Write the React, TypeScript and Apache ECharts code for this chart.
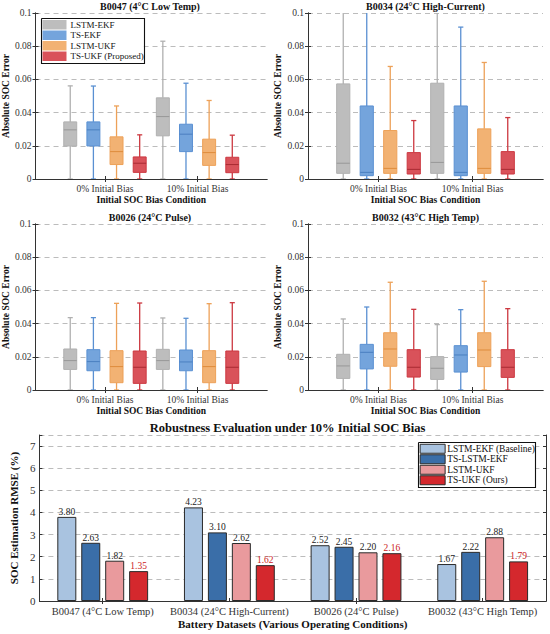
import React, { useEffect, useRef } from 'react';
import * as echarts from 'echarts';

const methods = ['LSTM-EKF', 'TS-EKF', 'LSTM-UKF', 'TS-UKF (Proposed)'];
const biasLabels = ['0% Initial Bias', '10% Initial Bias'];
const panelTitles = ['B0047 (4°C Low Temp)', 'B0034 (24°C High-Current)', 'B0026 (24°C Pulse)', 'B0032 (43°C High Temp)'];

// [method][bias] = [min, q1, median, q3, max]
const b0047 = [
  [[0, 0.0199, 0.0296, 0.0344, 0.0561], [0, 0.026, 0.0376, 0.0489, 0.083]],
  [[0, 0.0199, 0.0296, 0.0344, 0.056], [0, 0.0165, 0.027, 0.033, 0.0577]],
  [[0, 0.0087, 0.0165, 0.0254, 0.044], [0, 0.0082, 0.0159, 0.024, 0.0473]],
  [[0, 0.004, 0.0095, 0.0133, 0.0266], [0, 0.0038, 0.0087, 0.0131, 0.0264]],
];
const b0034 = [
  [[0, 0.0034, 0.0095, 0.0573, 0.118], [0, 0.0034, 0.010, 0.0577, 0.12]],
  [[0, 0.002, 0.004, 0.044, 0.108], [0, 0.002, 0.004, 0.044, 0.0915]],
  [[0, 0.0034, 0.0064, 0.0292, 0.0678], [0, 0.0034, 0.0064, 0.0302, 0.0702]],
  [[0, 0.003, 0.0058, 0.0159, 0.0352], [0, 0.003, 0.0058, 0.0165, 0.037]],
];
const b0026 = [
  [[0, 0.0124, 0.0177, 0.0247, 0.0436], [0, 0.0124, 0.0177, 0.0245, 0.0434]],
  [[0, 0.0116, 0.0171, 0.0243, 0.0436], [0, 0.0116, 0.0169, 0.0241, 0.0432]],
  [[0, 0.0044, 0.0141, 0.0237, 0.0522], [0, 0.0044, 0.0141, 0.0237, 0.052]],
  [[0, 0.004, 0.0137, 0.0235, 0.0524], [0, 0.004, 0.0137, 0.0235, 0.0526]],
];
const b0032 = [
  [[0, 0.007, 0.0145, 0.0215, 0.0428], [0, 0.0064, 0.0131, 0.0201, 0.0394]],
  [[0, 0.0127, 0.0227, 0.0275, 0.05], [0, 0.0108, 0.0211, 0.0267, 0.0484]],
  [[0, 0.0143, 0.0247, 0.0345, 0.0649], [0, 0.0141, 0.0241, 0.0345, 0.0655]],
  [[0, 0.0078, 0.0137, 0.0243, 0.0486], [0, 0.0076, 0.0137, 0.0243, 0.049]],
];
const panelStats = [b0047, b0034, b0026, b0032];

const barCategories = ['B0047 (4°C Low Temp)', 'B0034 (24°C High-Current)', 'B0026 (24°C Pulse)', 'B0032 (43°C High Temp)'];
const barSeriesNames = ['LSTM-EKF (Baseline)', 'TS-LSTM-EKF', 'LSTM-UKF', 'TS-UKF (Ours)'];
const rmseLstmEkf = [3.80, 4.23, 2.52, 1.67];
const rmseTsLstmEkf = [2.63, 3.10, 2.45, 2.22];
const rmseLstmUkf = [1.82, 2.62, 2.20, 2.88];
const rmseTsUkf = [1.35, 1.62, 2.16, 1.79];
const barValues = [rmseLstmEkf, rmseTsLstmEkf, rmseLstmUkf, rmseTsUkf];

const boxFill = ['#bdbdbd', '#74a4dc', '#f2b273', '#d9525a'];
const boxStroke = ['#b0b0b0', '#5a90d2', '#eda158', '#cc3840'];
const boxMedian = ['#979797', '#4a7fc0', '#de8c3c', '#a82a32'];
const barColors = ['#a9c3e0', '#3a6ea8', '#e99a9d', '#d4282d'];

const FONT = 'Liberation Serif';

const grids = [
  { left: 33, top: 13, width: 234, height: 166 },
  { left: 308, top: 13, width: 235, height: 166 },
  { left: 33, top: 224, width: 234, height: 166 },
  { left: 308, top: 224, width: 235, height: 166 },
  { left: 33, top: 435, width: 513, height: 166 },
];

function makeRenderer(m: number) {
  return (params: any, api: any) => {
    const x = api.value(0);
    const mn = api.value(1);
    const q1 = api.value(2);
    const md = api.value(3);
    const q3 = api.value(4);
    const mx = api.value(5);
    const unit = api.size([1, 0])[0];
    const half = unit * 0.28;
    const cap = unit * 0.11;
    const pMin = api.coord([x, mn]);
    const pQ1 = api.coord([x, q1]);
    const pMd = api.coord([x, md]);
    const pQ3 = api.coord([x, q3]);
    const pMax = api.coord([x, mx]);
    const cx = pMin[0];
    const ws = { stroke: boxStroke[m], lineWidth: 1.3 };
    return {
      type: 'group',
      children: [
        { type: 'line', shape: { x1: cx, y1: pMax[1], x2: cx, y2: pQ3[1] }, style: ws },
        { type: 'line', shape: { x1: cx, y1: pQ1[1], x2: cx, y2: pMin[1] }, style: ws },
        { type: 'line', shape: { x1: cx - cap, y1: pMax[1], x2: cx + cap, y2: pMax[1] }, style: ws },
        { type: 'line', shape: { x1: cx - cap, y1: pMin[1], x2: cx + cap, y2: pMin[1] }, style: ws },
        {
          type: 'rect',
          shape: { x: cx - half, y: pQ3[1], width: 2 * half, height: pQ1[1] - pQ3[1] },
          style: { fill: boxFill[m], stroke: boxStroke[m], lineWidth: 1 },
        },
        { type: 'line', shape: { x1: cx - half, y1: pMd[1], x2: cx + half, y2: pMd[1] }, style: { stroke: boxMedian[m], lineWidth: 1 } },
      ],
    };
  };
}

function buildOption() {
  const xAxis: any[] = [];
  const yAxis: any[] = [];
  const series: any[] = [];
  const title: any[] = [];
  const axisLine = { show: true, lineStyle: { color: '#333', width: 1 } };
  const tick = { show: true, inside: true, length: 3, lineStyle: { color: '#333' } };

  for (let p = 0; p < 4; p++) {
    const g = grids[p];
    title.push({
      text: panelTitles[p],
      left: g.left + g.width / 2,
      top: g.top - 12,
      textAlign: 'center',
      padding: 0,
      textStyle: { fontFamily: FONT, fontSize: 10, fontWeight: 'bold', color: '#111' },
    });
    xAxis.push({
      type: 'value', gridIndex: p, min: 0, max: 10, interval: 1,
      axisLine, axisTick: { ...tick, customValues: [3, 7] },
      axisLabel: {
        customValues: [3, 7], margin: 5, fontFamily: FONT, fontSize: 9.5, color: '#333',
        formatter: (v: number) => (v === 3 ? biasLabels[0] : v === 7 ? biasLabels[1] : ''),
      },
      splitLine: { show: false },
      name: 'Initial SOC Bias Condition', nameLocation: 'middle', nameGap: 15,
      nameTextStyle: { fontFamily: FONT, fontSize: 9.5, fontWeight: 'bold', color: '#111' },
    });
    xAxis.push({
      type: 'value', gridIndex: p, min: 0, max: 10, interval: 1, position: 'top',
      axisLine, axisTick: { ...tick, customValues: [3, 7] }, axisLabel: { show: false }, splitLine: { show: false },
    });
    yAxis.push({
      type: 'value', gridIndex: p, min: 0, max: 0.1, interval: 0.02,
      axisLine, axisTick: tick,
      axisLabel: { fontFamily: FONT, fontSize: 9.5, color: '#333', margin: 4 },
      splitLine: { show: true, lineStyle: { type: [5, 4], color: '#bcbcbc', width: 1 } },
      name: 'Absolute SOC Error', nameLocation: 'middle', nameGap: 21,
      nameTextStyle: { fontFamily: FONT, fontSize: 9.5, fontWeight: 'bold', color: '#111' },
    });
    yAxis.push({
      type: 'value', gridIndex: p, min: 0, max: 0.1, interval: 0.02, position: 'right',
      axisLine, axisTick: tick, axisLabel: { show: false }, splitLine: { show: false },
    });
    const stats = panelStats[p];
    for (let m = 0; m < 4; m++) {
      series.push({
        type: 'custom',
        name: methods[m],
        xAxisIndex: 2 * p,
        yAxisIndex: 2 * p,
        clip: true,
        itemStyle: { color: boxFill[m] },
        encode: { x: 0, y: [1, 2, 3, 4, 5] },
        renderItem: makeRenderer(m),
        data: biasLabels.map((_, gi) => [1.5 + gi * 4 + m, ...stats[m][gi]]),
      });
    }
  }

  const bg = grids[4];
  title.push({
    text: 'Robustness Evaluation under 10% Initial SOC Bias',
    left: bg.left + bg.width / 2 - 2,
    top: bg.top - 14,
    textAlign: 'center',
    padding: 0,
    textStyle: { fontFamily: FONT, fontSize: 12.5, fontWeight: 'bold', color: '#111' },
  });
  xAxis.push({
    type: 'category', gridIndex: 4, data: barCategories,
    axisLine, axisTick: { ...tick, alignWithLabel: true },
    axisLabel: { fontFamily: FONT, fontSize: 10.5, color: '#333', margin: 5, interval: 0 },
    name: 'Battery Datasets (Various Operating Conditions)', nameLocation: 'middle', nameGap: 17,
    nameTextStyle: { fontFamily: FONT, fontSize: 11, fontWeight: 'bold', color: '#111' },
  });
  xAxis.push({
    type: 'category', gridIndex: 4, data: barCategories, position: 'top',
    axisLine, axisTick: { ...tick, alignWithLabel: true }, axisLabel: { show: false },
  });
  yAxis.push({
    type: 'value', gridIndex: 4, min: 0, max: 7.5, interval: 1,
    axisLine, axisTick: tick,
    axisLabel: {
      fontFamily: FONT, fontSize: 11, color: '#333', margin: 4,
      formatter: (v: number) => (Number.isInteger(v) ? String(v) : ''),
    },
    splitLine: { show: true, lineStyle: { type: [5, 4], color: '#bcbcbc', width: 1 } },
    name: 'SOC Estimation RMSE (%)', nameLocation: 'middle', nameGap: 11,
    nameTextStyle: { fontFamily: FONT, fontSize: 11, fontWeight: 'bold', color: '#111' },
  });
  yAxis.push({
    type: 'value', gridIndex: 4, min: 0, max: 7.5, interval: 1, position: 'right',
    axisLine, axisTick: tick, axisLabel: { show: false }, splitLine: { show: false },
  });
  for (let s = 0; s < 4; s++) {
    series.push({
      type: 'bar',
      name: barSeriesNames[s],
      xAxisIndex: 8,
      yAxisIndex: 8,
      barWidth: 19,
      barGap: '26%',
      itemStyle: { color: barColors[s], borderColor: '#2a2a2a', borderWidth: 1 },
      label: {
        show: true, position: 'top', distance: 0,
        fontFamily: FONT, fontSize: 9.5,
        color: s === 3 ? '#cc1a1a' : '#222',
        formatter: (d: any) => Number(d.value).toFixed(2),
      },
      data: barValues[s],
    });
  }

  const legend = [
    {
      orient: 'vertical',
      icon: 'rect',
      itemGap: 0,
      left: 41, top: 18,
      padding: [1.5, 0, 1.5, 1.5],
      borderWidth: 0,
      backgroundColor: '#ffffff',
      selectedMode: false,
      itemWidth: 24, itemHeight: 9.5,
      textStyle: { fontFamily: FONT, fontSize: 9, lineHeight: 10.5, color: '#111', padding: [0, 0, 0, -1] },
      data: methods.map((n, i) => ({ name: n, itemStyle: { color: boxFill[i], borderWidth: 0 } })),
    },
    {
      orient: 'vertical',
      icon: 'rect',
      itemGap: 0,
      right: 14, top: 442,
      padding: [1.5, 1, 1.5, 2.5],
      borderWidth: 0,
      backgroundColor: '#ffffff',
      selectedMode: false,
      itemWidth: 25, itemHeight: 9,
      textStyle: { fontFamily: FONT, fontSize: 9.5, lineHeight: 10.5, color: '#111', padding: [0, 0, 0, -3] },
      data: barSeriesNames.map((n, i) => ({ name: n, itemStyle: { color: barColors[i], borderColor: '#2a2a2a', borderWidth: 1 } })),
    },
  ];

  const frame = (x: number, y: number, w: number, h: number) => ({
    type: 'polyline', z: 100, silent: true,
    shape: { points: [[x, y], [x + w, y], [x + w, y + h], [x, y + h], [x, y]] },
    style: { fill: null, stroke: '#111', lineWidth: 1.1 },
  });

  const graphic = [
    frame(41.5, 18.5, 103, 45),
    frame(418.5, 442.5, 117, 45),
  ];

  return {
    animation: false,
    backgroundColor: '#fff',
    textStyle: { fontFamily: FONT },
    title,
    grid: grids.map((g) => ({ ...g, containLabel: false })),
    xAxis,
    yAxis,
    legend,
    graphic,
    series,
  };
}

export default function App() {
  const ref = useRef<HTMLDivElement>(null);
  useEffect(() => {
    document.body.style.margin = '0';
    if (!ref.current) return;
    const chart = echarts.init(ref.current, undefined, { renderer: 'svg' });
    chart.setOption(buildOption() as any);
    return () => chart.dispose();
  }, []);
  return <div ref={ref} style={{ width: 550, height: 634 }} />;
}
